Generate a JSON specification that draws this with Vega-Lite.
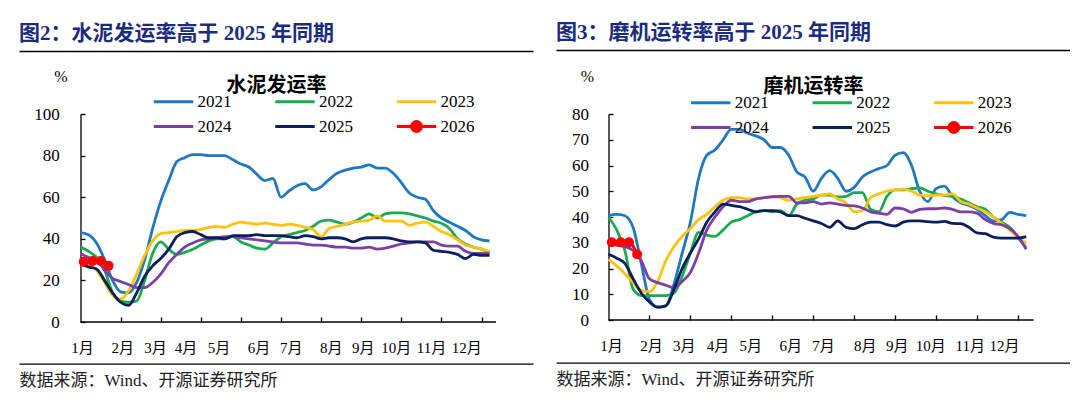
{
"$schema":"https://vega.github.io/schema/vega-lite/v6.json",
"background":"#ffffff",
"padding":{"left":19,"top":22,"right":0,"bottom":0},
"autosize":{"type":"pad"},
"spacing":23,
"config":{"view":{"stroke":null}},
"resolve":{"scale":{"color":"independent","shape":"independent","stroke":"independent","fill":"independent"},"legend":{"color":"independent","shape":"independent","stroke":"independent","fill":"independent"}},
"datasets":{
"cement":[
{"week":1,"year":"2021","value":43},{"week":2,"year":"2021","value":42},{"week":3,"year":"2021","value":38},{"week":4,"year":"2021","value":30},{"week":5,"year":"2021","value":20},{"week":6,"year":"2021","value":14.5},{"week":7,"year":"2021","value":14},{"week":8,"year":"2021","value":19},{"week":9,"year":"2021","value":30},{"week":10,"year":"2021","value":45},{"week":11,"year":"2021","value":58},{"week":12,"year":"2021","value":68},{"week":13,"year":"2021","value":77},{"week":14,"year":"2021","value":79},{"week":15,"year":"2021","value":80.5},{"week":16,"year":"2021","value":80.5},{"week":17,"year":"2021","value":80},{"week":18,"year":"2021","value":80},{"week":19,"year":"2021","value":80},{"week":20,"year":"2021","value":78},{"week":21,"year":"2021","value":76},{"week":22,"year":"2021","value":74.5},{"week":23,"year":"2021","value":71},{"week":24,"year":"2021","value":68},{"week":25,"year":"2021","value":69},{"week":26,"year":"2021","value":60},{"week":27,"year":"2021","value":63},{"week":28,"year":"2021","value":65.5},{"week":29,"year":"2021","value":66.5},{"week":30,"year":"2021","value":63.5},{"week":31,"year":"2021","value":65},{"week":32,"year":"2021","value":68.5},{"week":33,"year":"2021","value":71.5},{"week":34,"year":"2021","value":73},{"week":35,"year":"2021","value":74},{"week":36,"year":"2021","value":74.5},{"week":37,"year":"2021","value":75.5},{"week":38,"year":"2021","value":74},{"week":39,"year":"2021","value":74},{"week":40,"year":"2021","value":71.5},{"week":41,"year":"2021","value":67},{"week":42,"year":"2021","value":62},{"week":43,"year":"2021","value":60},{"week":44,"year":"2021","value":59},{"week":45,"year":"2021","value":53.5},{"week":46,"year":"2021","value":50},{"week":47,"year":"2021","value":48},{"week":48,"year":"2021","value":46},{"week":49,"year":"2021","value":44},{"week":50,"year":"2021","value":41},{"week":51,"year":"2021","value":39.5},{"week":52,"year":"2021","value":39},
{"week":1,"year":"2022","value":36},{"week":2,"year":"2022","value":34},{"week":3,"year":"2022","value":31},{"week":4,"year":"2022","value":25},{"week":5,"year":"2022","value":14},{"week":6,"year":"2022","value":10},{"week":7,"year":"2022","value":9.5},{"week":8,"year":"2022","value":10},{"week":9,"year":"2022","value":20},{"week":10,"year":"2022","value":33},{"week":11,"year":"2022","value":38.5},{"week":12,"year":"2022","value":35},{"week":13,"year":"2022","value":32.5},{"week":14,"year":"2022","value":33.5},{"week":15,"year":"2022","value":35},{"week":16,"year":"2022","value":37},{"week":17,"year":"2022","value":39},{"week":18,"year":"2022","value":40},{"week":19,"year":"2022","value":40},{"week":20,"year":"2022","value":41},{"week":21,"year":"2022","value":38.5},{"week":22,"year":"2022","value":37},{"week":23,"year":"2022","value":35.5},{"week":24,"year":"2022","value":35},{"week":25,"year":"2022","value":38},{"week":26,"year":"2022","value":41},{"week":27,"year":"2022","value":42},{"week":28,"year":"2022","value":43},{"week":29,"year":"2022","value":44},{"week":30,"year":"2022","value":46},{"week":31,"year":"2022","value":48.5},{"week":32,"year":"2022","value":49},{"week":33,"year":"2022","value":48},{"week":34,"year":"2022","value":47},{"week":35,"year":"2022","value":48},{"week":36,"year":"2022","value":50},{"week":37,"year":"2022","value":52},{"week":38,"year":"2022","value":50},{"week":39,"year":"2022","value":52},{"week":40,"year":"2022","value":52.5},{"week":41,"year":"2022","value":52.5},{"week":42,"year":"2022","value":52},{"week":43,"year":"2022","value":51},{"week":44,"year":"2022","value":50},{"week":45,"year":"2022","value":48.5},{"week":46,"year":"2022","value":47.5},{"week":47,"year":"2022","value":45},{"week":48,"year":"2022","value":40},{"week":49,"year":"2022","value":37.5},{"week":50,"year":"2022","value":36},{"week":51,"year":"2022","value":35},{"week":52,"year":"2022","value":33.5},
{"week":1,"year":"2023","value":29},{"week":2,"year":"2023","value":27.5},{"week":3,"year":"2023","value":25},{"week":4,"year":"2023","value":19},{"week":5,"year":"2023","value":13},{"week":6,"year":"2023","value":11},{"week":7,"year":"2023","value":15},{"week":8,"year":"2023","value":23},{"week":9,"year":"2023","value":32},{"week":10,"year":"2023","value":39},{"week":11,"year":"2023","value":42.5},{"week":12,"year":"2023","value":43},{"week":13,"year":"2023","value":43.5},{"week":14,"year":"2023","value":44},{"week":15,"year":"2023","value":44},{"week":16,"year":"2023","value":44.5},{"week":17,"year":"2023","value":45.5},{"week":18,"year":"2023","value":46},{"week":19,"year":"2023","value":45.5},{"week":20,"year":"2023","value":47},{"week":21,"year":"2023","value":48},{"week":22,"year":"2023","value":47.5},{"week":23,"year":"2023","value":47},{"week":24,"year":"2023","value":47.5},{"week":25,"year":"2023","value":47},{"week":26,"year":"2023","value":46.5},{"week":27,"year":"2023","value":47},{"week":28,"year":"2023","value":46.5},{"week":29,"year":"2023","value":45.5},{"week":30,"year":"2023","value":44.5},{"week":31,"year":"2023","value":41},{"week":32,"year":"2023","value":45},{"week":33,"year":"2023","value":46},{"week":34,"year":"2023","value":47},{"week":35,"year":"2023","value":48},{"week":36,"year":"2023","value":48.5},{"week":37,"year":"2023","value":49},{"week":38,"year":"2023","value":51},{"week":39,"year":"2023","value":48.5},{"week":40,"year":"2023","value":48.5},{"week":41,"year":"2023","value":48.5},{"week":42,"year":"2023","value":46.5},{"week":43,"year":"2023","value":47.5},{"week":44,"year":"2023","value":48},{"week":45,"year":"2023","value":46},{"week":46,"year":"2023","value":43.5},{"week":47,"year":"2023","value":42},{"week":48,"year":"2023","value":39.5},{"week":49,"year":"2023","value":37},{"week":50,"year":"2023","value":36},{"week":51,"year":"2023","value":35},{"week":52,"year":"2023","value":34},
{"week":1,"year":"2024","value":33},{"week":2,"year":"2024","value":31},{"week":3,"year":"2024","value":30},{"week":4,"year":"2024","value":25},{"week":5,"year":"2024","value":21},{"week":6,"year":"2024","value":19.5},{"week":7,"year":"2024","value":18},{"week":8,"year":"2024","value":16.5},{"week":9,"year":"2024","value":16.5},{"week":10,"year":"2024","value":19},{"week":11,"year":"2024","value":23},{"week":12,"year":"2024","value":28.5},{"week":13,"year":"2024","value":32.5},{"week":14,"year":"2024","value":36},{"week":15,"year":"2024","value":38},{"week":16,"year":"2024","value":39.5},{"week":17,"year":"2024","value":40},{"week":18,"year":"2024","value":40.5},{"week":19,"year":"2024","value":41},{"week":20,"year":"2024","value":41},{"week":21,"year":"2024","value":40.5},{"week":22,"year":"2024","value":40},{"week":23,"year":"2024","value":39.5},{"week":24,"year":"2024","value":39},{"week":25,"year":"2024","value":38.5},{"week":26,"year":"2024","value":38},{"week":27,"year":"2024","value":38},{"week":28,"year":"2024","value":38},{"week":29,"year":"2024","value":37.5},{"week":30,"year":"2024","value":37},{"week":31,"year":"2024","value":37},{"week":32,"year":"2024","value":36.5},{"week":33,"year":"2024","value":36},{"week":34,"year":"2024","value":36},{"week":35,"year":"2024","value":35.5},{"week":36,"year":"2024","value":35.5},{"week":37,"year":"2024","value":36},{"week":38,"year":"2024","value":35},{"week":39,"year":"2024","value":35.5},{"week":40,"year":"2024","value":36.5},{"week":41,"year":"2024","value":37.5},{"week":42,"year":"2024","value":38},{"week":43,"year":"2024","value":38.5},{"week":44,"year":"2024","value":38.5},{"week":45,"year":"2024","value":38.5},{"week":46,"year":"2024","value":37},{"week":47,"year":"2024","value":36.5},{"week":48,"year":"2024","value":36.5},{"week":49,"year":"2024","value":34},{"week":50,"year":"2024","value":33},{"week":51,"year":"2024","value":33},{"week":52,"year":"2024","value":33},
{"week":1,"year":"2025","value":28},{"week":2,"year":"2025","value":26.5},{"week":3,"year":"2025","value":25.5},{"week":4,"year":"2025","value":20},{"week":5,"year":"2025","value":14},{"week":6,"year":"2025","value":9.5},{"week":7,"year":"2025","value":8},{"week":8,"year":"2025","value":14},{"week":9,"year":"2025","value":22},{"week":10,"year":"2025","value":27},{"week":11,"year":"2025","value":30.5},{"week":12,"year":"2025","value":35},{"week":13,"year":"2025","value":41},{"week":14,"year":"2025","value":43},{"week":15,"year":"2025","value":43.5},{"week":16,"year":"2025","value":42},{"week":17,"year":"2025","value":40.5},{"week":18,"year":"2025","value":40.5},{"week":19,"year":"2025","value":40},{"week":20,"year":"2025","value":41.5},{"week":21,"year":"2025","value":41.5},{"week":22,"year":"2025","value":41.5},{"week":23,"year":"2025","value":42},{"week":24,"year":"2025","value":41.5},{"week":25,"year":"2025","value":41.5},{"week":26,"year":"2025","value":41.5},{"week":27,"year":"2025","value":41},{"week":28,"year":"2025","value":40.5},{"week":29,"year":"2025","value":41.5},{"week":30,"year":"2025","value":41},{"week":31,"year":"2025","value":40},{"week":32,"year":"2025","value":40.5},{"week":33,"year":"2025","value":40.5},{"week":34,"year":"2025","value":40},{"week":35,"year":"2025","value":38.5},{"week":36,"year":"2025","value":40},{"week":37,"year":"2025","value":40.5},{"week":38,"year":"2025","value":40.5},{"week":39,"year":"2025","value":40.5},{"week":40,"year":"2025","value":40},{"week":41,"year":"2025","value":39},{"week":42,"year":"2025","value":38.5},{"week":43,"year":"2025","value":38.5},{"week":44,"year":"2025","value":38},{"week":45,"year":"2025","value":34.5},{"week":46,"year":"2025","value":34},{"week":47,"year":"2025","value":33.5},{"week":48,"year":"2025","value":32.5},{"week":49,"year":"2025","value":30.5},{"week":50,"year":"2025","value":32.5},{"week":51,"year":"2025","value":32},{"week":52,"year":"2025","value":32},
{"week":1.4,"year":"2026","value":29},{"week":2.5,"year":"2026","value":29.3},{"week":3.5,"year":"2026","value":29.3},{"week":4.5,"year":"2026","value":27}
],
"mill":[
{"week":1,"year":"2021","value":40.5},{"week":2,"year":"2021","value":41},{"week":3,"year":"2021","value":40.5},{"week":4,"year":"2021","value":36},{"week":5,"year":"2021","value":22},{"week":6,"year":"2021","value":8},{"week":7,"year":"2021","value":5},{"week":8,"year":"2021","value":5.5},{"week":9,"year":"2021","value":14},{"week":10,"year":"2021","value":26},{"week":11,"year":"2021","value":38},{"week":12,"year":"2021","value":55},{"week":13,"year":"2021","value":64},{"week":14,"year":"2021","value":66},{"week":15,"year":"2021","value":70},{"week":16,"year":"2021","value":74},{"week":17,"year":"2021","value":74},{"week":18,"year":"2021","value":72.5},{"week":19,"year":"2021","value":71.5},{"week":20,"year":"2021","value":70},{"week":21,"year":"2021","value":67},{"week":22,"year":"2021","value":67},{"week":23,"year":"2021","value":64},{"week":24,"year":"2021","value":57.5},{"week":25,"year":"2021","value":55.5},{"week":26,"year":"2021","value":50},{"week":27,"year":"2021","value":55},{"week":28,"year":"2021","value":58},{"week":29,"year":"2021","value":55},{"week":30,"year":"2021","value":50},{"week":31,"year":"2021","value":51.5},{"week":32,"year":"2021","value":55.5},{"week":33,"year":"2021","value":57.5},{"week":34,"year":"2021","value":58.8},{"week":35,"year":"2021","value":60},{"week":36,"year":"2021","value":64},{"week":37,"year":"2021","value":65},{"week":38,"year":"2021","value":60},{"week":39,"year":"2021","value":50},{"week":40,"year":"2021","value":46},{"week":41,"year":"2021","value":51},{"week":42,"year":"2021","value":52},{"week":43,"year":"2021","value":48},{"week":44,"year":"2021","value":45.5},{"week":45,"year":"2021","value":44.5},{"week":46,"year":"2021","value":43},{"week":47,"year":"2021","value":40.5},{"week":48,"year":"2021","value":38.5},{"week":49,"year":"2021","value":39},{"week":50,"year":"2021","value":41.8},{"week":51,"year":"2021","value":41},{"week":52,"year":"2021","value":40.5},
{"week":1,"year":"2022","value":40},{"week":2,"year":"2022","value":35},{"week":3,"year":"2022","value":27},{"week":4,"year":"2022","value":12},{"week":5,"year":"2022","value":9.5},{"week":6,"year":"2022","value":9.5},{"week":7,"year":"2022","value":9.5},{"week":8,"year":"2022","value":9.5},{"week":9,"year":"2022","value":10.5},{"week":10,"year":"2022","value":17},{"week":11,"year":"2022","value":26},{"week":12,"year":"2022","value":34},{"week":13,"year":"2022","value":33},{"week":14,"year":"2022","value":32.5},{"week":15,"year":"2022","value":35},{"week":16,"year":"2022","value":38},{"week":17,"year":"2022","value":39},{"week":18,"year":"2022","value":40.5},{"week":19,"year":"2022","value":42},{"week":20,"year":"2022","value":42.5},{"week":21,"year":"2022","value":42},{"week":22,"year":"2022","value":42.5},{"week":23,"year":"2022","value":40.5},{"week":24,"year":"2022","value":45},{"week":25,"year":"2022","value":46.5},{"week":26,"year":"2022","value":47},{"week":27,"year":"2022","value":48.5},{"week":28,"year":"2022","value":48.5},{"week":29,"year":"2022","value":47.8},{"week":30,"year":"2022","value":48},{"week":31,"year":"2022","value":49.5},{"week":32,"year":"2022","value":49.5},{"week":33,"year":"2022","value":43},{"week":34,"year":"2022","value":42},{"week":35,"year":"2022","value":48},{"week":36,"year":"2022","value":50.5},{"week":37,"year":"2022","value":50.5},{"week":38,"year":"2022","value":51},{"week":39,"year":"2022","value":51.3},{"week":40,"year":"2022","value":50},{"week":41,"year":"2022","value":49},{"week":42,"year":"2022","value":48.4},{"week":43,"year":"2022","value":48},{"week":44,"year":"2022","value":47},{"week":45,"year":"2022","value":45.5},{"week":46,"year":"2022","value":44},{"week":47,"year":"2022","value":43},{"week":48,"year":"2022","value":40},{"week":49,"year":"2022","value":38},{"week":50,"year":"2022","value":36},{"week":51,"year":"2022","value":32},{"week":52,"year":"2022","value":28},
{"week":1,"year":"2023","value":23.5},{"week":2,"year":"2023","value":21},{"week":3,"year":"2023","value":18},{"week":4,"year":"2023","value":14.5},{"week":5,"year":"2023","value":11.5},{"week":6,"year":"2023","value":11},{"week":7,"year":"2023","value":15},{"week":8,"year":"2023","value":23},{"week":9,"year":"2023","value":28.5},{"week":10,"year":"2023","value":32.5},{"week":11,"year":"2023","value":35.5},{"week":12,"year":"2023","value":39},{"week":13,"year":"2023","value":41},{"week":14,"year":"2023","value":44},{"week":15,"year":"2023","value":46.5},{"week":16,"year":"2023","value":47.5},{"week":17,"year":"2023","value":47.5},{"week":18,"year":"2023","value":47},{"week":19,"year":"2023","value":47},{"week":20,"year":"2023","value":47.5},{"week":21,"year":"2023","value":48},{"week":22,"year":"2023","value":47.5},{"week":23,"year":"2023","value":46.5},{"week":24,"year":"2023","value":47},{"week":25,"year":"2023","value":47.5},{"week":26,"year":"2023","value":48},{"week":27,"year":"2023","value":48.5},{"week":28,"year":"2023","value":49},{"week":29,"year":"2023","value":47},{"week":30,"year":"2023","value":45.5},{"week":31,"year":"2023","value":42},{"week":32,"year":"2023","value":42.5},{"week":33,"year":"2023","value":47.5},{"week":34,"year":"2023","value":49},{"week":35,"year":"2023","value":50},{"week":36,"year":"2023","value":50.5},{"week":37,"year":"2023","value":50.8},{"week":38,"year":"2023","value":50},{"week":39,"year":"2023","value":48.5},{"week":40,"year":"2023","value":48.2},{"week":41,"year":"2023","value":48.5},{"week":42,"year":"2023","value":48.5},{"week":43,"year":"2023","value":49},{"week":44,"year":"2023","value":46},{"week":45,"year":"2023","value":45},{"week":46,"year":"2023","value":43.5},{"week":47,"year":"2023","value":42},{"week":48,"year":"2023","value":40},{"week":49,"year":"2023","value":37.5},{"week":50,"year":"2023","value":35},{"week":51,"year":"2023","value":32},{"week":52,"year":"2023","value":30},
{"week":1,"year":"2024","value":30},{"week":2,"year":"2024","value":29},{"week":3,"year":"2024","value":28.5},{"week":4,"year":"2024","value":27},{"week":5,"year":"2024","value":23},{"week":6,"year":"2024","value":16},{"week":7,"year":"2024","value":14.5},{"week":8,"year":"2024","value":13.5},{"week":9,"year":"2024","value":12.5},{"week":10,"year":"2024","value":15},{"week":11,"year":"2024","value":18.5},{"week":12,"year":"2024","value":26},{"week":13,"year":"2024","value":35},{"week":14,"year":"2024","value":40},{"week":15,"year":"2024","value":44},{"week":16,"year":"2024","value":46.5},{"week":17,"year":"2024","value":46},{"week":18,"year":"2024","value":46},{"week":19,"year":"2024","value":47},{"week":20,"year":"2024","value":47.5},{"week":21,"year":"2024","value":47.8},{"week":22,"year":"2024","value":48},{"week":23,"year":"2024","value":48},{"week":24,"year":"2024","value":45.5},{"week":25,"year":"2024","value":45.5},{"week":26,"year":"2024","value":46},{"week":27,"year":"2024","value":45},{"week":28,"year":"2024","value":45.5},{"week":29,"year":"2024","value":45},{"week":30,"year":"2024","value":44.5},{"week":31,"year":"2024","value":44.3},{"week":32,"year":"2024","value":43.5},{"week":33,"year":"2024","value":42},{"week":34,"year":"2024","value":41.5},{"week":35,"year":"2024","value":41},{"week":36,"year":"2024","value":43.5},{"week":37,"year":"2024","value":43.2},{"week":38,"year":"2024","value":41.8},{"week":39,"year":"2024","value":43},{"week":40,"year":"2024","value":43.2},{"week":41,"year":"2024","value":43.2},{"week":42,"year":"2024","value":43.5},{"week":43,"year":"2024","value":43},{"week":44,"year":"2024","value":42},{"week":45,"year":"2024","value":42},{"week":46,"year":"2024","value":41.5},{"week":47,"year":"2024","value":39},{"week":48,"year":"2024","value":37.5},{"week":49,"year":"2024","value":37},{"week":50,"year":"2024","value":35.5},{"week":51,"year":"2024","value":32.5},{"week":52,"year":"2024","value":27.5},
{"week":1,"year":"2025","value":25.5},{"week":2,"year":"2025","value":24},{"week":3,"year":"2025","value":22},{"week":4,"year":"2025","value":16},{"week":5,"year":"2025","value":10.5},{"week":6,"year":"2025","value":7},{"week":7,"year":"2025","value":5},{"week":8,"year":"2025","value":5.5},{"week":9,"year":"2025","value":12},{"week":10,"year":"2025","value":20},{"week":11,"year":"2025","value":26},{"week":12,"year":"2025","value":31.5},{"week":13,"year":"2025","value":38},{"week":14,"year":"2025","value":42},{"week":15,"year":"2025","value":45},{"week":16,"year":"2025","value":44.5},{"week":17,"year":"2025","value":44},{"week":18,"year":"2025","value":43},{"week":19,"year":"2025","value":42},{"week":20,"year":"2025","value":42.5},{"week":21,"year":"2025","value":42.5},{"week":22,"year":"2025","value":42},{"week":23,"year":"2025","value":40.5},{"week":24,"year":"2025","value":40.5},{"week":25,"year":"2025","value":39.5},{"week":26,"year":"2025","value":38.5},{"week":27,"year":"2025","value":37.5},{"week":28,"year":"2025","value":36},{"week":29,"year":"2025","value":38.5},{"week":30,"year":"2025","value":36},{"week":31,"year":"2025","value":35.5},{"week":32,"year":"2025","value":37},{"week":33,"year":"2025","value":38},{"week":34,"year":"2025","value":38},{"week":35,"year":"2025","value":37},{"week":36,"year":"2025","value":36.5},{"week":37,"year":"2025","value":38},{"week":38,"year":"2025","value":38.5},{"week":39,"year":"2025","value":38.5},{"week":40,"year":"2025","value":38.2},{"week":41,"year":"2025","value":38},{"week":42,"year":"2025","value":38.3},{"week":43,"year":"2025","value":37.5},{"week":44,"year":"2025","value":37.4},{"week":45,"year":"2025","value":36},{"week":46,"year":"2025","value":33.8},{"week":47,"year":"2025","value":33.5},{"week":48,"year":"2025","value":32.2},{"week":49,"year":"2025","value":31.8},{"week":50,"year":"2025","value":31.8},{"week":51,"year":"2025","value":31.8},{"week":52,"year":"2025","value":32.4},
{"week":1.4,"year":"2026","value":30.2},{"week":2.5,"year":"2026","value":30.2},{"week":3.5,"year":"2026","value":30.2},{"week":4.5,"year":"2026","value":25.5}
]
},
"hconcat":[
{
"width":514,"height":208,
"title":{"text":"图2：水泥发运率高于 2025 年同期","anchor":"start","frame":"group","offset":7,"font":"Liberation Serif, Noto Sans CJK SC","fontSize":21,"fontWeight":"bold","color":"#1b2b80"},
"data":{"name":"cement"},
"resolve":{"axis":{"x":"independent"}},
"layer":[
{"mark":{"type":"line","strokeWidth":2.8,"interpolate":"monotone"},
"encoding":{
"x":{"field":"week","type":"quantitative","scale":{"domain":[-6.668,57.42],"nice":false,"zero":false},"axis":{"orient":"bottom","values":[6,11,16,21,26,31,36,41,46,51],"labels":false,"domain":false,"grid":false,"ticks":true,"tickSize":-5,"tickColor":"#000000","tickWidth":1.3,"title":null}},
"y":{"field":"value","type":"quantitative","scale":{"domain":[0,100],"nice":false},"axis":{"orient":"left","offset":-61.5,"values":[0,20,40,60,80,100],"grid":false,"domain":true,"domainColor":"#000000","domainWidth":1.3,"ticks":true,"tickSize":-4.5,"tickColor":"#000000","tickWidth":1.3,"labelPadding":25.7,"labelFont":"Liberation Serif","labelFontSize":17,"labelColor":"#000000","labelFlush":false,"labelOverlap":false,"title":"%","titleAngle":0,"titleX":-20,"titleY":-38,"titleAlign":"center","titleBaseline":"middle","titleFont":"Liberation Serif","titleFontSize":16,"titleFontWeight":"normal","titleColor":"#000000"}},
"color":{"field":"year","type":"nominal","scale":{"range":["#1f78c1","#1aab4f","#ffc20e","#7b3fa8","#0b1f5c","#ff0000"]},"legend":{"disable":true}}
}},
{"transform":[{"filter":"datum.year === '2026'"}],
"mark":{"type":"point","shape":"circle","filled":true,"size":100,"opacity":1},
"encoding":{
"x":{"field":"week","type":"quantitative","axis":null},
"y":{"field":"value","type":"quantitative","axis":{"orient":"left","offset":-61.5,"values":[0,20,40,60,80,100],"grid":false,"domain":true,"domainColor":"#000000","domainWidth":1.3,"ticks":true,"tickSize":-4.5,"tickColor":"#000000","tickWidth":1.3,"labelPadding":25.7,"labelFont":"Liberation Serif","labelFontSize":17,"labelColor":"#000000","labelFlush":false,"labelOverlap":false,"title":"%","titleAngle":0,"titleX":-20,"titleY":-38,"titleAlign":"center","titleBaseline":"middle","titleFont":"Liberation Serif","titleFontSize":16,"titleFontWeight":"normal","titleColor":"#000000"}},
"color":{"field":"year","type":"nominal","legend":{"disable":true}}
}},
{"mark":{"type":"point","opacity":0,"filled":true},
"encoding":{
"x":{"field":"week","type":"quantitative","axis":{"orient":"bottom","offset":41.7,"values":[1.2,6.2,10.3,14.1,18.2,23.2,27.2,32.2,36.2,40.3,44.7,49.1],"labelExpr":"datum.value < 4 ? '1月' : datum.value < 8 ? '2月' : datum.value < 12 ? '3月' : datum.value < 16 ? '4月' : datum.value < 20 ? '5月' : datum.value < 25 ? '6月' : datum.value < 30 ? '7月' : datum.value < 34 ? '8月' : datum.value < 38 ? '9月' : datum.value < 42 ? '10月' : datum.value < 47 ? '11月' : '12月'","ticks":false,"domain":true,"domainColor":"#000000","domainWidth":1.3,"grid":false,"labelPadding":-16.5,"labelBaseline":"middle","labelAngle":0,"labelFont":"Liberation Serif, Noto Sans CJK SC","labelFontSize":15,"labelColor":"#000000","labelOverlap":false,"labelFlush":false,"title":"数据来源：Wind、开源证券研究所","titleAnchor":"start","titleAlign":"left","titleX":0,"titleY":17,"titleBaseline":"middle","titleFont":"Liberation Serif, Noto Sans CJK SC","titleFontSize":17,"titleFontWeight":"normal","titleColor":"#222222"}},
"y":{"field":"value","type":"quantitative","axis":{"orient":"left","offset":-61.5,"values":[0,20,40,60,80,100],"grid":false,"domain":true,"domainColor":"#000000","domainWidth":1.3,"ticks":true,"tickSize":-4.5,"tickColor":"#000000","tickWidth":1.3,"labelPadding":25.7,"labelFont":"Liberation Serif","labelFontSize":17,"labelColor":"#000000","labelFlush":false,"labelOverlap":false,"title":"%","titleAngle":0,"titleX":-20,"titleY":-38,"titleAlign":"center","titleBaseline":"middle","titleFont":"Liberation Serif","titleFontSize":16,"titleFontWeight":"normal","titleColor":"#000000"}},
"fill":{"field":"year","type":"nominal","scale":{"domain":["2021","2022","2023","2024","2025","2026"],"range":["#1f78c1","#1aab4f","#ffc20e","#7b3fa8","#0b1f5c","#ff0000"]},"legend":{"orient":"none","legendX":146,"legendY":-21,"direction":"horizontal","columns":3,"title":null,"labelFont":"Liberation Serif","labelFontSize":17,"labelColor":"#000000","labelOffset":15.4,"columnPadding":36.5,"rowPadding":5,"symbolSize":173,"symbolStrokeWidth":3,"symbolOpacity":1,"padding":0}},
"shape":{"field":"year","type":"nominal","scale":{"domain":["2021","2022","2023","2024","2025","2026"],"range":["M-3,0L3,0","M-3,0L3,0","M-3,0L3,0","M-3,0L3,0","M-3,0L3,0","M-3,0L3,0M-0.76,0A0.76,0.76,0,1,1,0.76,0A0.76,0.76,0,1,1,-0.76,0Z"]},"legend":{"orient":"none","legendX":146,"legendY":-21,"direction":"horizontal","columns":3,"title":null,"labelFont":"Liberation Serif","labelFontSize":17,"labelColor":"#000000","labelOffset":15.4,"columnPadding":36.5,"rowPadding":5,"symbolSize":173,"symbolStrokeWidth":3,"symbolOpacity":1,"padding":0}},
"stroke":{"field":"year","type":"nominal","scale":{"domain":["2021","2022","2023","2024","2025","2026"],"range":["#1f78c1","#1aab4f","#ffc20e","#7b3fa8","#0b1f5c","#ff0000"]},"legend":{"orient":"none","legendX":146,"legendY":-21,"direction":"horizontal","columns":3,"title":null,"labelFont":"Liberation Serif","labelFontSize":17,"labelColor":"#000000","labelOffset":15.4,"columnPadding":36.5,"rowPadding":5,"symbolSize":173,"symbolStrokeWidth":3,"symbolOpacity":1,"padding":0}}
}},
{"data":{"values":[{"part":"x axis line"}]},
"mark":{"type":"rule","color":"#000000","strokeWidth":1.3},
"encoding":{
"x":{"datum":1,"type":"quantitative","axis":{"orient":"top","offset":63,"domain":true,"domainColor":"#000000","domainWidth":1.3,"ticks":false,"labels":false,"grid":false,"title":"水泥发运率","titleY":34.5,"titleBaseline":"middle","titleFont":"Liberation Serif, Noto Sans CJK SC","titleFontSize":20,"titleFontWeight":"bold","titleColor":"#000000"}},
"x2":{"datum":52.8},
"y":{"datum":0,"type":"quantitative","axis":{"orient":"left","offset":-61.5,"values":[0,20,40,60,80,100],"grid":false,"domain":true,"domainColor":"#000000","domainWidth":1.3,"ticks":true,"tickSize":-4.5,"tickColor":"#000000","tickWidth":1.3,"labelPadding":25.7,"labelFont":"Liberation Serif","labelFontSize":17,"labelColor":"#000000","labelFlush":false,"labelOverlap":false,"title":"%","titleAngle":0,"titleX":-20,"titleY":-38,"titleAlign":"center","titleBaseline":"middle","titleFont":"Liberation Serif","titleFontSize":16,"titleFontWeight":"normal","titleColor":"#000000"}}
}}
]
},
{
"width":514,"height":206,
"title":{"text":"图3：磨机运转率高于 2025 年同期","anchor":"start","frame":"group","offset":7,"font":"Liberation Serif, Noto Sans CJK SC","fontSize":21,"fontWeight":"bold","color":"#1b2b80"},
"data":{"name":"mill"},
"resolve":{"axis":{"x":"independent"}},
"layer":[
{"mark":{"type":"line","strokeWidth":2.8,"interpolate":"monotone"},
"encoding":{
"x":{"field":"week","type":"quantitative","scale":{"domain":[-5.41,57.35],"nice":false,"zero":false},"axis":{"orient":"bottom","values":[6,11,16,21,26,31,36,41,46,51],"labels":false,"domain":false,"grid":false,"ticks":true,"tickSize":-5,"tickColor":"#000000","tickWidth":1.3,"title":null}},
"y":{"field":"value","type":"quantitative","scale":{"domain":[0,80],"nice":false},"axis":{"orient":"left","offset":-52.5,"values":[0,10,20,30,40,50,60,70,80],"grid":false,"domain":true,"domainColor":"#000000","domainWidth":1.3,"ticks":true,"tickSize":-4.5,"tickColor":"#000000","tickWidth":1.3,"labelPadding":24.5,"labelFont":"Liberation Serif","labelFontSize":17,"labelColor":"#000000","labelFlush":false,"labelOverlap":false,"title":"%","titleAngle":0,"titleX":-21.5,"titleY":-38,"titleAlign":"center","titleBaseline":"middle","titleFont":"Liberation Serif","titleFontSize":16,"titleFontWeight":"normal","titleColor":"#000000"}},
"color":{"field":"year","type":"nominal","scale":{"range":["#1f78c1","#1aab4f","#ffc20e","#7b3fa8","#0b1f5c","#ff0000"]},"legend":{"disable":true}}
}},
{"transform":[{"filter":"datum.year === '2026'"}],
"mark":{"type":"point","shape":"circle","filled":true,"size":100,"opacity":1},
"encoding":{
"x":{"field":"week","type":"quantitative","axis":null},
"y":{"field":"value","type":"quantitative","axis":{"orient":"left","offset":-52.5,"values":[0,10,20,30,40,50,60,70,80],"grid":false,"domain":true,"domainColor":"#000000","domainWidth":1.3,"ticks":true,"tickSize":-4.5,"tickColor":"#000000","tickWidth":1.3,"labelPadding":24.5,"labelFont":"Liberation Serif","labelFontSize":17,"labelColor":"#000000","labelFlush":false,"labelOverlap":false,"title":"%","titleAngle":0,"titleX":-21.5,"titleY":-38,"titleAlign":"center","titleBaseline":"middle","titleFont":"Liberation Serif","titleFontSize":16,"titleFontWeight":"normal","titleColor":"#000000"}},
"color":{"field":"year","type":"nominal","legend":{"disable":true}}
}},
{"mark":{"type":"point","opacity":0,"filled":true},
"encoding":{
"x":{"field":"week","type":"quantitative","axis":{"orient":"bottom","offset":42.7,"values":[1.3,6.2,10.2,14.3,18.3,23.2,27.2,32.3,36.2,40.3,45.1,49.3],"labelExpr":"datum.value < 4 ? '1月' : datum.value < 8 ? '2月' : datum.value < 12 ? '3月' : datum.value < 16 ? '4月' : datum.value < 20 ? '5月' : datum.value < 25 ? '6月' : datum.value < 30 ? '7月' : datum.value < 34 ? '8月' : datum.value < 38 ? '9月' : datum.value < 42 ? '10月' : datum.value < 47 ? '11月' : '12月'","ticks":false,"domain":true,"domainColor":"#000000","domainWidth":1.3,"grid":false,"labelPadding":-17.5,"labelBaseline":"middle","labelAngle":0,"labelFont":"Liberation Serif, Noto Sans CJK SC","labelFontSize":15,"labelColor":"#000000","labelOverlap":false,"labelFlush":false,"title":"数据来源：Wind、开源证券研究所","titleAnchor":"start","titleAlign":"left","titleX":0,"titleY":17,"titleBaseline":"middle","titleFont":"Liberation Serif, Noto Sans CJK SC","titleFontSize":17,"titleFontWeight":"normal","titleColor":"#222222"}},
"y":{"field":"value","type":"quantitative","axis":{"orient":"left","offset":-52.5,"values":[0,10,20,30,40,50,60,70,80],"grid":false,"domain":true,"domainColor":"#000000","domainWidth":1.3,"ticks":true,"tickSize":-4.5,"tickColor":"#000000","tickWidth":1.3,"labelPadding":24.5,"labelFont":"Liberation Serif","labelFontSize":17,"labelColor":"#000000","labelFlush":false,"labelOverlap":false,"title":"%","titleAngle":0,"titleX":-21.5,"titleY":-38,"titleAlign":"center","titleBaseline":"middle","titleFont":"Liberation Serif","titleFontSize":16,"titleFontWeight":"normal","titleColor":"#000000"}},
"fill":{"field":"year","type":"nominal","scale":{"domain":["2021","2022","2023","2024","2025","2026"],"range":["#1f78c1","#1aab4f","#ffc20e","#7b3fa8","#0b1f5c","#ff0000"]},"legend":{"orient":"none","legendX":146.3,"legendY":-20,"direction":"horizontal","columns":3,"title":null,"labelFont":"Liberation Serif","labelFontSize":17,"labelColor":"#000000","labelOffset":15.4,"columnPadding":36.5,"rowPadding":5,"symbolSize":173,"symbolStrokeWidth":3,"symbolOpacity":1,"padding":0}},
"shape":{"field":"year","type":"nominal","scale":{"domain":["2021","2022","2023","2024","2025","2026"],"range":["M-3,0L3,0","M-3,0L3,0","M-3,0L3,0","M-3,0L3,0","M-3,0L3,0","M-3,0L3,0M-0.76,0A0.76,0.76,0,1,1,0.76,0A0.76,0.76,0,1,1,-0.76,0Z"]},"legend":{"orient":"none","legendX":146.3,"legendY":-20,"direction":"horizontal","columns":3,"title":null,"labelFont":"Liberation Serif","labelFontSize":17,"labelColor":"#000000","labelOffset":15.4,"columnPadding":36.5,"rowPadding":5,"symbolSize":173,"symbolStrokeWidth":3,"symbolOpacity":1,"padding":0}},
"stroke":{"field":"year","type":"nominal","scale":{"domain":["2021","2022","2023","2024","2025","2026"],"range":["#1f78c1","#1aab4f","#ffc20e","#7b3fa8","#0b1f5c","#ff0000"]},"legend":{"orient":"none","legendX":146.3,"legendY":-20,"direction":"horizontal","columns":3,"title":null,"labelFont":"Liberation Serif","labelFontSize":17,"labelColor":"#000000","labelOffset":15.4,"columnPadding":36.5,"rowPadding":5,"symbolSize":173,"symbolStrokeWidth":3,"symbolOpacity":1,"padding":0}}
}},
{"data":{"values":[{"part":"x axis line"}]},
"mark":{"type":"rule","color":"#000000","strokeWidth":1.3},
"encoding":{
"x":{"datum":1,"type":"quantitative","axis":{"orient":"top","offset":64,"domain":true,"domainColor":"#000000","domainWidth":1.3,"ticks":false,"labels":false,"grid":false,"title":"磨机运转率","titleY":36,"titleBaseline":"middle","titleFont":"Liberation Serif, Noto Sans CJK SC","titleFontSize":20,"titleFontWeight":"bold","titleColor":"#000000"}},
"x2":{"datum":52.9},
"y":{"datum":0,"type":"quantitative","axis":{"orient":"left","offset":-52.5,"values":[0,10,20,30,40,50,60,70,80],"grid":false,"domain":true,"domainColor":"#000000","domainWidth":1.3,"ticks":true,"tickSize":-4.5,"tickColor":"#000000","tickWidth":1.3,"labelPadding":24.5,"labelFont":"Liberation Serif","labelFontSize":17,"labelColor":"#000000","labelFlush":false,"labelOverlap":false,"title":"%","titleAngle":0,"titleX":-21.5,"titleY":-38,"titleAlign":"center","titleBaseline":"middle","titleFont":"Liberation Serif","titleFontSize":16,"titleFontWeight":"normal","titleColor":"#000000"}}
}}
]
}
]
}
